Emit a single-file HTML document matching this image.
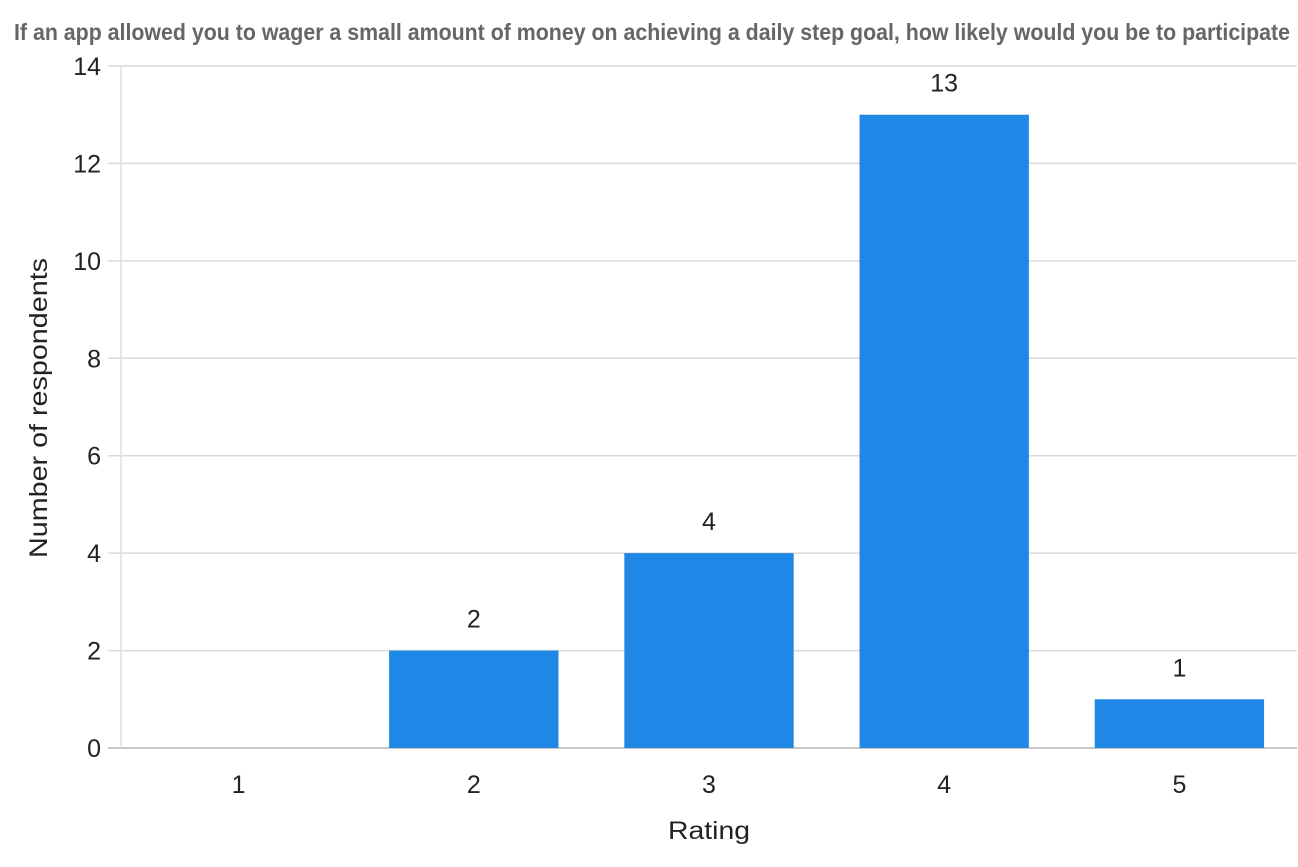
<!DOCTYPE html>
<html><head><meta charset="utf-8"><style>
html,body{margin:0;padding:0;background:#fff;}
svg{display:block;font-family:"Liberation Sans",sans-serif;}
</style></head><body>
<svg id="chart" width="1298" height="867">
<text x="652" y="40" text-anchor="middle" font-family="'Liberation Sans Narrow','Liberation Sans',sans-serif" font-weight="bold" font-size="23" fill="#666" textLength="1276" lengthAdjust="spacingAndGlyphs">If an app allowed you to wager a small amount of money on achieving a daily step goal, how likely would you be to participate</text>
<text x="709" y="839" text-anchor="middle" font-size="25" fill="#222" textLength="82" lengthAdjust="spacingAndGlyphs">Rating</text>
<text transform="translate(47,408) rotate(-90)" text-anchor="middle" font-size="25" fill="#222" textLength="300" lengthAdjust="spacingAndGlyphs">Number of respondents</text>
<g id="grid"></g><g id="bars"></g>
</svg>
<script>
const categories = ["1","2","3","4","5"];
const values = [0,2,4,13,1];
const yTicks = [0,2,4,6,8,10,12,14];
const NS="http://www.w3.org/2000/svg";
const x0=121,x1=1297,y0=748,yTop=66,yMax=14;
const band=(x1-x0)/categories.length;
const y=v=>y0-(v/yMax)*(y0-yTop);
const xc=i=>x0+band*(i+0.5);
const grid=document.getElementById('grid'), bars=document.getElementById('bars');
function mk(tag,attrs,parent,text){const e=document.createElementNS(NS,tag);for(const k in attrs)e.setAttribute(k,attrs[k]);if(text!==undefined)e.textContent=text;parent.appendChild(e);return e;}
yTicks.forEach(t=>{
  const l=mk('line',{x1:108,x2:x1,y1:y(t),y2:y(t),stroke:t===0?'#c8c8c8':'#d9d9d9','stroke-width':t===0?2:1.5},grid);
  
  
  const tx=mk('text',{x:101,y:y(t)+9,'text-anchor':'end','font-size':25,fill:'#222'},grid,String(t));
  
  
});
const ax=mk('line',{x1:x0,x2:x0,y1:yTop,y2:y0,stroke:'#e0e0e0','stroke-width':1.5},grid);


const bw=band*0.72;
categories.forEach((c,i)=>{
  const v=values[i];
  if(v>0){
    const r=mk('rect',{x:xc(i)-bw/2,y:y(v),width:bw,height:y0-y(v),fill:'#1f87e5'},bars);
    
    
    const lb=mk('text',{x:xc(i),y:y(v)-23,'text-anchor':'middle','font-size':25,fill:'#222'},bars,String(v));
    
    
  }
  const xl=mk('text',{x:xc(i),y:793,'text-anchor':'middle','font-size':25,fill:'#222'},bars,c);
  
  
});
</script>
</body></html>
